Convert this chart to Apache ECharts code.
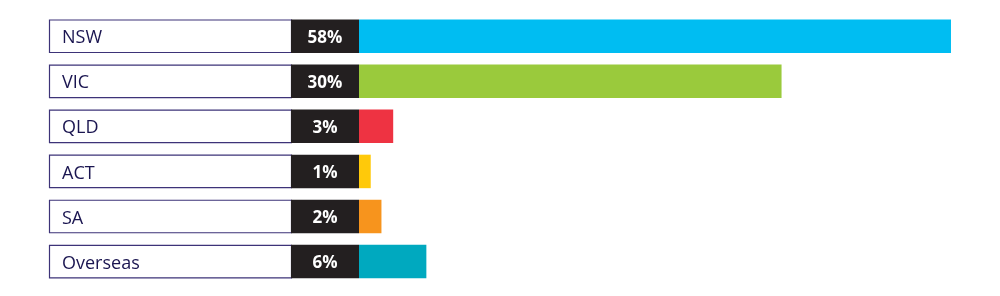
<!DOCTYPE html>
<html>
<head>
<meta charset="utf-8">
<script src="https://cdn.jsdelivr.net/npm/echarts@6/dist/echarts.min.js"></script>
<style>
html,body{margin:0;padding:0;background:#fff;}
#chart{width:1000px;height:296px;}
</style>
</head>
<body>
<div id="chart"></div>
<script>
// Data
const categories = ['NSW', 'VIC', 'QLD', 'ACT', 'SA', 'Overseas'];
const percentLabels = ['58%', '30%', '3%', '1%', '2%', '6%'];
// bar lengths as drawn in the picture (in percentage units)
const barValues = [58, 41.4, 3.35, 1.15, 2.2, 6.6];
const barColors = ['#00bdf2', '#9aca3c', '#ee3342', '#ffc90a', '#f7941d', '#00a9bf'];

const LABEL_W = 310;   // from label box left edge to bar start
const PCT_W = 68;      // dark percent box width
const BAR_H = 33.5;

const chart = echarts.init(document.getElementById('chart'), null, {renderer: 'canvas'});

const data = categories.map((c, i) => [barValues[i], i]);

chart.setOption({
  animation: false,
  grid: {left: 359, right: 28.6, top: 13.7, bottom: 11.9},
  xAxis: {type: 'value', min: 0, max: 60, show: false},
  yAxis: {type: 'category', data: categories, inverse: true, show: false},
  series: [{
    type: 'custom',
    data: data,
    renderItem: function (params, api) {
      const idx = params.dataIndex;
      const start = api.coord([0, api.value(1)]);
      const end = api.coord([api.value(0), api.value(1)]);
      const x0 = start[0];
      const yc = start[1];
      const top = yc - BAR_H / 2;
      return {
        type: 'group',
        children: [
          {
            type: 'rect',
            shape: {x: x0 - LABEL_W + 0.5, y: top + 0.5, width: LABEL_W - PCT_W, height: BAR_H - 1},
            style: {fill: '#ffffff', stroke: '#3d3378', lineWidth: 1.2}
          },
          {
            type: 'text',
            style: {
              x: x0 - LABEL_W + 13, y: yc + 2,
              text: categories[idx],
              fill: '#1a1550',
              font: '18px "Open Sans", sans-serif',
              verticalAlign: 'middle', align: 'left'
            }
          },
          {
            type: 'rect',
            shape: {x: x0 - PCT_W, y: top, width: PCT_W, height: BAR_H},
            style: {fill: '#231f20'}
          },
          {
            type: 'text',
            style: {
              x: x0 - PCT_W / 2, y: yc + 2,
              text: percentLabels[idx],
              fill: '#ffffff',
              font: 'bold 17px "Open Sans", sans-serif',
              verticalAlign: 'middle', align: 'center'
            }
          },
          {
            type: 'rect',
            shape: {x: x0, y: top, width: end[0] - x0, height: BAR_H},
            style: {fill: barColors[idx]}
          }
        ]
      };
    }
  }]
});
</script>
</body>
</html>
